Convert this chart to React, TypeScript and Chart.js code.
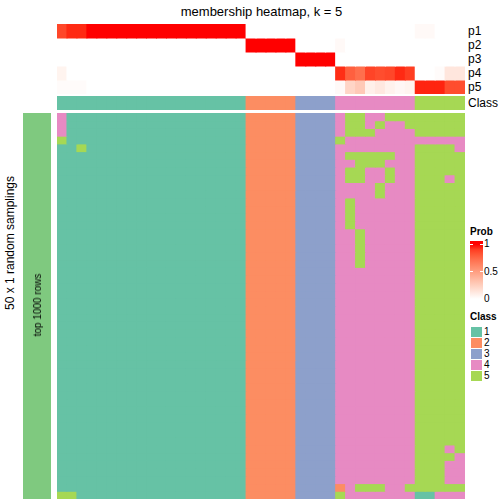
import React, { useEffect, useRef } from "react";
import { Chart, registerables } from "chart.js";

Chart.register(...registerables);

// ---------- text ----------
const TITLE = "membership heatmap, k = 5";
const ROW_TITLE = "50 x 1 random samplings";
const SIDE_LABEL = "top 1000 rows";
const PROB_NAMES = ["p1", "p2", "p3", "p4", "p5"];
const CLASS_ROW_NAME = "Class";
const PROB_LEGEND_TITLE = "Prob";
const CLASS_LEGEND_TITLE = "Class";
const PROB_TICKS = [1, 0.5, 0];
const PROB_TICK_LABELS = ["1", "0.5", "0"];
const CLASS_NAMES = ["1", "2", "3", "4", "5"];

// ---------- colours ----------
const CLASS_COLORS = ["#66c2a5", "#fc8d62", "#8da0cb", "#e78ac3", "#a6d854"];
const SIDE_COLOR = "#7fc97f";

// ---------- top annotation: membership probabilities (41 columns) ----------
// columns: 19 class-1, 5 class-2, 4 class-3, 8 class-4, 5 class-5
const p1 = [
  0.87, 0.95, 0.95, 1, 1, 1, 1, 1, 1, 1, 1, 1, 1, 1, 1, 1, 1, 1, 1,
  0, 0, 0, 0, 0,
  0, 0, 0, 0,
  0, 0, 0, 0, 0, 0, 0, 0,
  0.03, 0.03, 0, 0, 0,
];
const p2 = [
  0, 0, 0, 0, 0, 0, 0, 0, 0, 0, 0, 0, 0, 0, 0, 0, 0, 0, 0,
  1, 1, 1, 1, 1,
  0, 0, 0, 0,
  0.03, 0, 0, 0, 0, 0, 0, 0,
  0, 0, 0, 0, 0,
];
const p3 = [
  0, 0, 0, 0, 0, 0, 0, 0, 0, 0, 0, 0, 0, 0, 0, 0, 0, 0, 0,
  0, 0, 0, 0, 0,
  1, 1, 1, 1,
  0, 0, 0, 0, 0, 0, 0, 0,
  0, 0, 0, 0, 0,
];
const p4 = [
  0.06, 0, 0, 0, 0, 0, 0, 0, 0, 0, 0, 0, 0, 0, 0, 0, 0, 0, 0,
  0, 0, 0, 0, 0,
  0, 0, 0, 0,
  0.94, 0.78, 0.72, 0.88, 0.85, 0.87, 0.95, 0.9,
  0, 0, 0.02, 0.13, 0.13,
];
const p5 = [
  0.02, 0.02, 0.02, 0, 0, 0, 0, 0, 0, 0, 0, 0, 0, 0, 0, 0, 0, 0, 0,
  0, 0, 0, 0, 0,
  0, 0, 0, 0,
  0.03, 0.22, 0.28, 0.08, 0.12, 0.07, 0.04, 0.06,
  0.96, 0.96, 0.96, 0.85, 0.85,
];
const PROBS = [p1, p2, p3, p4, p5];

// consensus class per column
const TOP_CLASS = ["1111111111111111111", "22222", "3333", "44444444", "55555"];

// ---------- main heatmap: class per sampling (rows) x column ----------
const T = "1111111111111111111";
const O = "22222";
const B = "3333";
const P = "44444444";
const G = "55555";
const SAMPLINGS = [
  ["4111111111111111111", O, B, "45544555", G],
  ["4111111111111111111", O, B, "45545445", G],
  ["4111111111111111111", O, B, "45554444", G],
  ["5111111111111111111", O, B, "54444444", "44444"],
  ["1151111111111111111", O, B, P, "55554"],
  [T, O, B, "45555544", G],
  [T, O, B, "44555444", G],
  [T, O, B, "45544544", G],
  [T, O, B, "45544544", "55545"],
  [T, O, B, "44445444", G],
  [T, O, B, "44445444", G],
  [T, O, B, "45444444", G],
  [T, O, B, "45444444", G],
  [T, O, B, "45444444", G],
  [T, O, B, "45444444", G],
  [T, O, B, "44544444", G],
  [T, O, B, "44544444", G],
  [T, O, B, "44544444", G],
  [T, O, B, "44544444", G],
  [T, O, B, "44544444", G],
  [T, O, B, P, G],
  [T, O, B, P, G],
  [T, O, B, P, G],
  [T, O, B, P, G],
  [T, O, B, P, G],
  [T, O, B, P, G],
  [T, O, B, P, G],
  [T, O, B, P, G],
  [T, O, B, P, G],
  [T, O, B, P, G],
  [T, O, B, P, G],
  [T, O, B, P, G],
  [T, O, B, P, G],
  [T, O, B, P, G],
  [T, O, B, P, G],
  [T, O, B, P, G],
  [T, O, B, P, G],
  [T, O, B, P, G],
  [T, O, B, P, G],
  [T, O, B, P, G],
  [T, O, B, P, G],
  [T, O, B, P, G],
  [T, O, B, P, G],
  [T, O, B, P, "55545"],
  [T, O, B, P, "55554"],
  [T, O, B, P, "55544"],
  [T, O, B, P, "55544"],
  [T, O, B, P, "55544"],
  [T, O, B, "24555445", G],
  ["5511111111111111111", O, B, "54444444", "11444"],
];

// ---------- colour helpers ----------
function probColor(t: number): string {
  // white -> red interpolated in CIE Lab
  const L = 100 + (53.24 - 100) * t;
  const a = 80.09 * t;
  const bb = 67.2 * t;
  const fy = (L + 16) / 116;
  const fx = fy + a / 500;
  const fz = fy - bb / 200;
  const finv = (v: number) => (v ** 3 > 0.008856 ? v ** 3 : (v - 16 / 116) / 7.787);
  const X = 0.95047 * finv(fx);
  const Y = finv(fy);
  const Z = 1.08883 * finv(fz);
  const r = 3.2406 * X - 1.5372 * Y - 0.4986 * Z;
  const g = -0.9689 * X + 1.8758 * Y + 0.0415 * Z;
  const b = 0.0557 * X - 0.204 * Y + 1.057 * Z;
  const gam = (c: number) => {
    c = Math.min(1, Math.max(0, c));
    return c <= 0.0031308 ? 12.92 * c : 1.055 * c ** (1 / 2.4) - 0.055;
  };
  return `rgb(${Math.round(gam(r) * 255)},${Math.round(gam(g) * 255)},${Math.round(gam(b) * 255)})`;
}
const classColor = (ch: string) => CLASS_COLORS[parseInt(ch, 10) - 1];
const rowColors = (segs: string[]) => segs.join("").split("").map(classColor);

// ---------- chart strip ----------
function HeatStrip({
  rows,
  left,
  top,
  width,
  height,
}: {
  rows: string[][];
  left: number;
  top: number;
  width: number;
  height: number;
}) {
  const ref = useRef<HTMLCanvasElement>(null);
  useEffect(() => {
    const canvas = ref.current!;
    const chart = new Chart(canvas, {
      type: "bar",
      data: {
        labels: rows[0].map((_, i) => String(i + 1)),
        datasets: rows.map((colors) => ({
          data: colors.map(() => 1),
          backgroundColor: colors,
          borderWidth: 0,
          barPercentage: 1,
          categoryPercentage: 1,
          inflateAmount: 0.5,
        })),
      },
      options: {
        animation: false,
        responsive: false,
        maintainAspectRatio: false,
        events: [],
        layout: { padding: 0 },
        plugins: {
          legend: { display: false },
          tooltip: { enabled: false },
          title: { display: false },
        },
        scales: {
          x: { display: false, stacked: true, grid: { display: false } },
          y: {
            display: false,
            stacked: true,
            min: 0,
            max: rows.length,
            reverse: true,
            grid: { display: false },
          },
        },
      } as any,
    });
    return () => chart.destroy();
  }, []);
  return (
    <canvas
      ref={ref}
      width={width}
      height={height}
      style={{ position: "absolute", left, top, width, height, display: "block" }}
    />
  );
}

function Txt({
  x,
  y,
  size,
  children,
  start,
  bold,
  rotate,
}: {
  x: number;
  y: number;
  size: number;
  children: React.ReactNode;
  start?: boolean;
  bold?: boolean;
  rotate?: boolean;
}) {
  return (
    <div
      style={{
        position: "absolute",
        left: x,
        top: y,
        fontSize: size,
        lineHeight: 1,
        whiteSpace: "nowrap",
        fontWeight: bold ? "bold" : "normal",
        transform: `translate(${start ? "0" : "-50%"}, -50%)${rotate ? " rotate(-90deg)" : ""}`,
      }}
    >
      {children}
    </div>
  );
}

export default function App() {
  const probRows = PROBS.map((row) => row.map(probColor));
  const classRow = [rowColors(TOP_CLASS)];
  const mainRows = SAMPLINGS.map(rowColors);
  const sideRows = [[SIDE_COLOR]];

  const gradTop = 241;
  const gradBottom = 299;
  const v1y = 244.3;
  const stops: string[] = [];
  for (let i = 0; i <= 10; i++) {
    const v = 1 - i / 10;
    const y = gradBottom - v * (gradBottom - v1y);
    stops.push(`${probColor(v)} ${(((y - gradTop) / (gradBottom - gradTop)) * 100).toFixed(2)}%`);
  }
  const tickY = (v: number) => gradBottom - v * (gradBottom - v1y);

  return (
    <div
      style={{
        position: "fixed",
        left: 0,
        top: 0,
        width: 504,
        height: 504,
        background: "#ffffff",
        color: "#000",
        fontFamily: '"Liberation Sans", Arial, Helvetica, sans-serif',
        overflow: "hidden",
      }}
    >
      <Txt x={261.5} y={10.5} size={13}>
        {TITLE}
      </Txt>

      <HeatStrip rows={probRows} left={57} top={24} width={408} height={70} />
      <HeatStrip rows={classRow} left={57} top={96} width={408} height={14} />
      <HeatStrip rows={mainRows} left={57} top={113} width={408} height={386} />
      <HeatStrip rows={sideRows} left={23} top={113} width={28} height={386} />

      {PROB_NAMES.map((n, i) => (
        <Txt key={n} x={468} y={31 + i * 14} size={12} start>
          {n}
        </Txt>
      ))}
      <Txt x={468} y={103} size={12} start>
        {CLASS_ROW_NAME}
      </Txt>

      <Txt x={10} y={243} size={12} rotate>
        {ROW_TITLE}
      </Txt>
      <Txt x={38} y={305} size={10} rotate>
        {SIDE_LABEL}
      </Txt>

      {/* Prob legend */}
      <Txt x={470} y={232} size={10} bold start>
        {PROB_LEGEND_TITLE}
      </Txt>
      <div
        style={{
          position: "absolute",
          left: 470,
          top: gradTop,
          width: 12.5,
          height: gradBottom - gradTop,
          background: `linear-gradient(to bottom, ${stops.join(", ")})`,
        }}
      />
      {PROB_TICKS.map((v) => (
        <React.Fragment key={v}>
          <div style={{ position: "absolute", left: 470, top: tickY(v) - 0.5, width: 2.5, height: 1, background: "#fff" }} />
          <div style={{ position: "absolute", left: 480, top: tickY(v) - 0.5, width: 2.5, height: 1, background: "#fff" }} />
        </React.Fragment>
      ))}
      {PROB_TICK_LABELS.map((l, i) => (
        <Txt key={l} x={484} y={tickY(PROB_TICKS[i])} size={10} start>
          {l}
        </Txt>
      ))}

      {/* Class legend */}
      <Txt x={470} y={316.5} size={10} bold start>
        {CLASS_LEGEND_TITLE}
      </Txt>
      {CLASS_NAMES.map((n, i) => (
        <React.Fragment key={n}>
          <div
            style={{
              position: "absolute",
              left: 471,
              top: 326.7 + i * 11.1,
              width: 11,
              height: 10,
              background: CLASS_COLORS[i],
            }}
          />
          <Txt x={484} y={331.7 + i * 11.1} size={10} start>
            {n}
          </Txt>
        </React.Fragment>
      ))}
    </div>
  );
}
